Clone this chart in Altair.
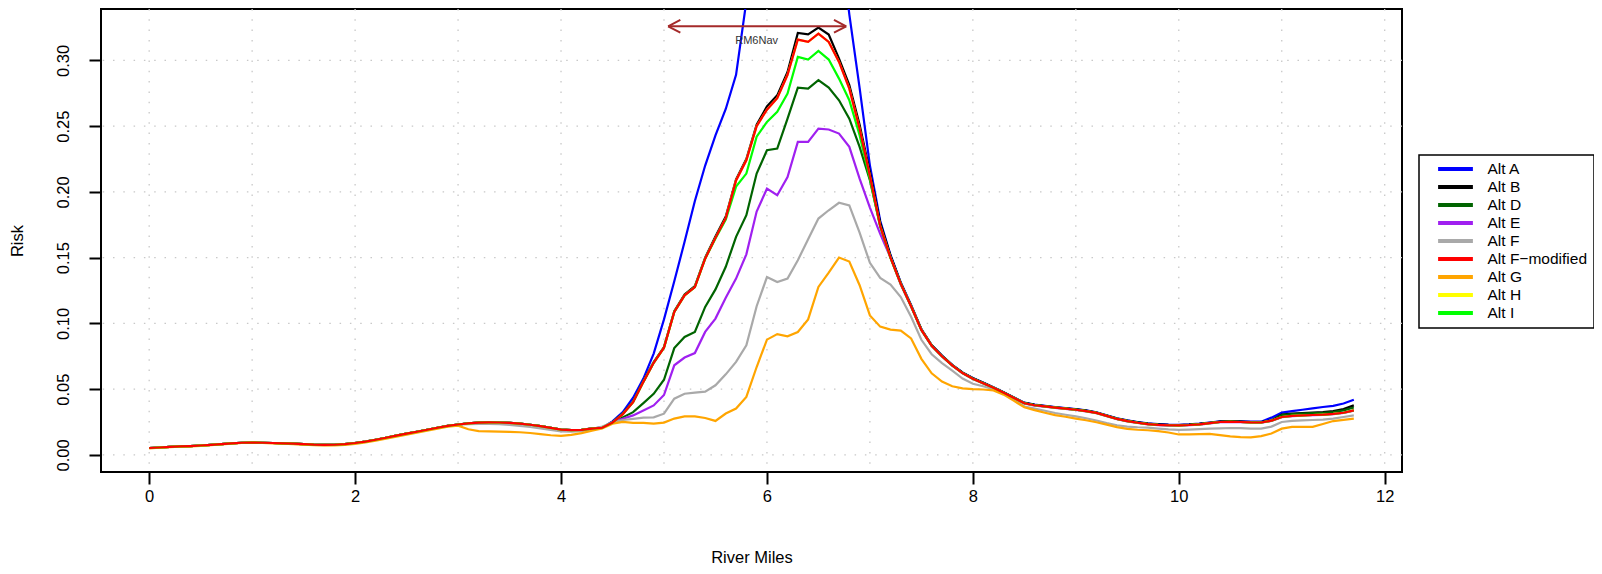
import altair as alt
import pandas as pd

# ---------------- data ----------------
river_miles = [round(0.1 * i, 1) for i in range(118)]  # 0.0 ... 11.7

series_names = ["Alt A", "Alt B", "Alt D", "Alt E", "Alt F",
                "Alt F\u2212modified", "Alt G", "Alt H", "Alt I"]
series_colors = ["#0000FF", "#000000", "#006400", "#A020F0", "#A9A9A9",
                 "#FF0000", "#FFA500", "#FFFF00", "#00FF00"]
# drawing order (red drawn last, on top)
draw_order = ["Alt A", "Alt B", "Alt D", "Alt E", "Alt F", "Alt G",
              "Alt H", "Alt I", "Alt F\u2212modified"]

# miles 0.0 - 4.2 (shared by A, B, D, E, F-modified, H, I)
shared_start = [
    0.0052, 0.0056, 0.0060, 0.0064, 0.0067, 0.0071, 0.0076, 0.0082, 0.0088, 0.0092,
    0.0093, 0.0092, 0.0090, 0.0088, 0.0085, 0.0082, 0.0078, 0.0076, 0.0077, 0.0082,
    0.0090, 0.0101, 0.0115, 0.0130, 0.0146, 0.0161, 0.0176, 0.0191, 0.0206, 0.0220,
    0.0231, 0.0240, 0.0245, 0.0247, 0.0246, 0.0243, 0.0237, 0.0229, 0.0218, 0.0205,
    0.0192, 0.0188, 0.0190]
alt_f_start = [
    0.0052, 0.0056, 0.0060, 0.0064, 0.0067, 0.0071, 0.0076, 0.0082, 0.0088, 0.0092,
    0.0093, 0.0092, 0.0090, 0.0088, 0.0084, 0.0080, 0.0076, 0.0074, 0.0075, 0.0080,
    0.0088, 0.0099, 0.0113, 0.0128, 0.0144, 0.0159, 0.0174, 0.0189, 0.0204, 0.0218,
    0.0229, 0.0234, 0.0236, 0.0236, 0.0233, 0.0228, 0.0221, 0.0212, 0.0202, 0.0190,
    0.0178, 0.0176, 0.0180]
alt_g_start = [
    0.0050, 0.0054, 0.0058, 0.0062, 0.0065, 0.0069, 0.0074, 0.0080, 0.0086, 0.0090,
    0.0091, 0.0090, 0.0088, 0.0086, 0.0082, 0.0078, 0.0074, 0.0071, 0.0071, 0.0075,
    0.0083, 0.0094, 0.0108, 0.0123, 0.0139, 0.0154, 0.0169, 0.0184, 0.0200, 0.0215,
    0.0222, 0.0195, 0.0180, 0.0178, 0.0177, 0.0175, 0.0172, 0.0166, 0.0157, 0.0149,
    0.0144, 0.0152, 0.0165]

# miles 4.3 - 11.7
alt_a_rest = [
    0.0200, 0.0207, 0.0255, 0.0325, 0.0435, 0.0580, 0.0770, 0.1030, 0.1320, 0.1620,
    0.1930, 0.2200, 0.2430, 0.2630, 0.2890, 0.3450, 0.4000, 0.4400, 0.4700, 0.4900,
    0.5000, 0.5000, 0.4900, 0.4700, 0.4000, 0.3350, 0.2790, 0.2200, 0.1780, 0.1520,
    0.1310, 0.1140, 0.0956, 0.0835, 0.0755, 0.0685, 0.0627, 0.0584, 0.0550, 0.0515,
    0.0477, 0.0437, 0.0397, 0.0382, 0.0373, 0.0364, 0.0356, 0.0348, 0.0338, 0.0324,
    0.0301, 0.0278, 0.0262, 0.0249, 0.0239, 0.0233, 0.0230, 0.0229, 0.0232, 0.0237,
    0.0246, 0.0255, 0.0256, 0.0255, 0.0252, 0.0252, 0.0283, 0.0321, 0.0333, 0.0343,
    0.0353, 0.0364, 0.0373, 0.0390, 0.0419]
alt_b_rest = [
    0.0201, 0.0208, 0.0248, 0.0314, 0.0405, 0.0560, 0.0705, 0.0820, 0.1092, 0.1220,
    0.1283, 0.1500, 0.1660, 0.1812, 0.2095, 0.2250, 0.2510, 0.2650, 0.2734, 0.2912,
    0.3209, 0.3198, 0.3249, 0.3196, 0.3013, 0.2811, 0.2510, 0.2150, 0.1765, 0.1515,
    0.1305, 0.1135, 0.0953, 0.0833, 0.0753, 0.0683, 0.0625, 0.0582, 0.0548, 0.0513,
    0.0475, 0.0435, 0.0395, 0.0380, 0.0371, 0.0362, 0.0354, 0.0346, 0.0336, 0.0322,
    0.0299, 0.0276, 0.0260, 0.0247, 0.0237, 0.0231, 0.0228, 0.0227, 0.0230, 0.0235,
    0.0244, 0.0253, 0.0254, 0.0253, 0.0250, 0.0249, 0.0262, 0.0306, 0.0314, 0.0318,
    0.0322, 0.0326, 0.0333, 0.0348, 0.0376]
alt_d_rest = [
    0.0200, 0.0204, 0.0250, 0.0285, 0.0325, 0.0393, 0.0464, 0.0571, 0.0812, 0.0897,
    0.0935, 0.1125, 0.1258, 0.1430, 0.1658, 0.1822, 0.2139, 0.2316, 0.2329, 0.2557,
    0.2793, 0.2785, 0.2849, 0.2793, 0.2696, 0.2557, 0.2342, 0.2088, 0.1745, 0.1502,
    0.1300, 0.1131, 0.0951, 0.0831, 0.0751, 0.0681, 0.0623, 0.0580, 0.0546, 0.0511,
    0.0473, 0.0433, 0.0393, 0.0378, 0.0369, 0.0360, 0.0352, 0.0344, 0.0334, 0.0320,
    0.0297, 0.0274, 0.0258, 0.0245, 0.0235, 0.0229, 0.0226, 0.0225, 0.0228, 0.0233,
    0.0242, 0.0251, 0.0252, 0.0251, 0.0248, 0.0247, 0.0260, 0.0302, 0.0310, 0.0314,
    0.0317, 0.0320, 0.0326, 0.0338, 0.0360]
alt_e_rest = [
    0.0200, 0.0204, 0.0250, 0.0275, 0.0300, 0.0338, 0.0376, 0.0455, 0.0681, 0.0740,
    0.0774, 0.0935, 0.1036, 0.1194, 0.1340, 0.1525, 0.1850, 0.2024, 0.1974, 0.2113,
    0.2380, 0.2380, 0.2481, 0.2474, 0.2443, 0.2342, 0.2100, 0.1880, 0.1680, 0.1500,
    0.1295, 0.1128, 0.0948, 0.0828, 0.0748, 0.0678, 0.0620, 0.0577, 0.0543, 0.0508,
    0.0470, 0.0430, 0.0390, 0.0375, 0.0366, 0.0357, 0.0349, 0.0341, 0.0331, 0.0317,
    0.0294, 0.0271, 0.0255, 0.0242, 0.0232, 0.0226, 0.0223, 0.0222, 0.0225, 0.0230,
    0.0239, 0.0248, 0.0249, 0.0248, 0.0245, 0.0244, 0.0258, 0.0286, 0.0294, 0.0298,
    0.0301, 0.0304, 0.0309, 0.0318, 0.0336]
alt_f_rest = [
    0.0195, 0.0215, 0.0245, 0.0265, 0.0274, 0.0283, 0.0285, 0.0313, 0.0427, 0.0465,
    0.0473, 0.0481, 0.0529, 0.0612, 0.0707, 0.0833, 0.1130, 0.1352, 0.1314, 0.1340,
    0.1480, 0.1640, 0.1797, 0.1860, 0.1917, 0.1897, 0.1690, 0.1460, 0.1345, 0.1295,
    0.1200, 0.1050, 0.0875, 0.0765, 0.0697, 0.0640, 0.0580, 0.0541, 0.0522, 0.0500,
    0.0465, 0.0420, 0.0368, 0.0352, 0.0335, 0.0318, 0.0305, 0.0293, 0.0278, 0.0261,
    0.0242, 0.0225, 0.0215, 0.0210, 0.0207, 0.0200, 0.0194, 0.0190, 0.0192, 0.0195,
    0.0199, 0.0202, 0.0204, 0.0203, 0.0200, 0.0200, 0.0215, 0.0250, 0.0258, 0.0262,
    0.0265, 0.0268, 0.0275, 0.0288, 0.0300]
alt_f_mod_rest = [
    0.0200, 0.0206, 0.0245, 0.0310, 0.0400, 0.0555, 0.0700, 0.0815, 0.1086, 0.1213,
    0.1276, 0.1492, 0.1650, 0.1800, 0.2087, 0.2240, 0.2500, 0.2625, 0.2712, 0.2890,
    0.3158, 0.3140, 0.3203, 0.3140, 0.2988, 0.2785, 0.2480, 0.2120, 0.1740, 0.1500,
    0.1300, 0.1130, 0.0950, 0.0830, 0.0750, 0.0680, 0.0622, 0.0579, 0.0545, 0.0510,
    0.0472, 0.0432, 0.0392, 0.0377, 0.0368, 0.0359, 0.0351, 0.0343, 0.0333, 0.0319,
    0.0296, 0.0273, 0.0257, 0.0244, 0.0234, 0.0228, 0.0225, 0.0224, 0.0227, 0.0232,
    0.0241, 0.0250, 0.0251, 0.0250, 0.0247, 0.0246, 0.0260, 0.0288, 0.0296, 0.0300,
    0.0303, 0.0306, 0.0311, 0.0320, 0.0338]
alt_g_rest = [
    0.0183, 0.0200, 0.0237, 0.0250, 0.0243, 0.0243, 0.0238, 0.0245, 0.0276, 0.0293,
    0.0293, 0.0280, 0.0258, 0.0314, 0.0352, 0.0441, 0.0668, 0.0876, 0.0918, 0.0901,
    0.0934, 0.1030, 0.1277, 0.1385, 0.1500, 0.1470, 0.1290, 0.1060, 0.0975, 0.0952,
    0.0945, 0.0885, 0.0730, 0.0620, 0.0557, 0.0522, 0.0505, 0.0500, 0.0497, 0.0490,
    0.0458, 0.0410, 0.0362, 0.0340, 0.0320, 0.0302, 0.0290, 0.0276, 0.0263, 0.0248,
    0.0230, 0.0211, 0.0198, 0.0191, 0.0187, 0.0180, 0.0170, 0.0155, 0.0155, 0.0157,
    0.0160, 0.0150, 0.0140, 0.0135, 0.0133, 0.0143, 0.0162, 0.0199, 0.0212, 0.0212,
    0.0213, 0.0235, 0.0257, 0.0266, 0.0275]
# Alt H is not visible anywhere: it lies under Alt F-modified
alt_h_rest = alt_f_mod_rest
alt_i_rest = [
    0.0200, 0.0206, 0.0245, 0.0310, 0.0400, 0.0555, 0.0700, 0.0815, 0.1086, 0.1213,
    0.1276, 0.1492, 0.1645, 0.1790, 0.2040, 0.2139, 0.2420, 0.2532, 0.2608, 0.2747,
    0.3026, 0.3006, 0.3072, 0.3006, 0.2861, 0.2697, 0.2430, 0.2100, 0.1735, 0.1498,
    0.1300, 0.1130, 0.0950, 0.0830, 0.0750, 0.0680, 0.0622, 0.0579, 0.0545, 0.0510,
    0.0472, 0.0432, 0.0392, 0.0377, 0.0368, 0.0359, 0.0351, 0.0343, 0.0333, 0.0319,
    0.0296, 0.0273, 0.0257, 0.0244, 0.0234, 0.0228, 0.0225, 0.0224, 0.0227, 0.0232,
    0.0241, 0.0250, 0.0251, 0.0250, 0.0247, 0.0246, 0.0260, 0.0288, 0.0296, 0.0300,
    0.0303, 0.0306, 0.0311, 0.0320, 0.0338]

risk_values = {
    "Alt A": shared_start + alt_a_rest,
    "Alt B": shared_start + alt_b_rest,
    "Alt D": shared_start + alt_d_rest,
    "Alt E": shared_start + alt_e_rest,
    "Alt F": alt_f_start + alt_f_rest,
    "Alt F\u2212modified": shared_start + alt_f_mod_rest,
    "Alt G": alt_g_start + alt_g_rest,
    "Alt H": shared_start + alt_h_rest,
    "Alt I": shared_start + alt_i_rest,
}

x_ticks = [0, 2, 4, 6, 8, 10, 12]
y_ticks = [0.0, 0.05, 0.10, 0.15, 0.20, 0.25, 0.30]
grid_x = [0, 1, 2, 3, 4, 5, 6, 7, 8, 9, 10, 11, 12]
grid_y = [0.0, 0.05, 0.10, 0.15, 0.20, 0.25, 0.30]

arrow_start = [5.04]
arrow_end = [6.77]
arrow_level = [0.3259]
note_x = [5.9]
note_y = [0.3150]
note_text = ["RM6Nav"]

# ---------------- chart ----------------
FONT = "Liberation Sans"
FS = 16.5
x_dom = [-0.468, 12.168]
y_dom = [-0.01304, 0.33904]
xs = alt.Scale(domain=x_dom, nice=False, zero=False)
ys = alt.Scale(domain=y_dom, nice=False, zero=False)

x_axis = alt.Axis(values=x_ticks, format="d", grid=False, domain=False,
                  tickSize=12, tickWidth=2, tickColor="black",
                  labelFont=FONT, labelFontSize=FS, labelColor="black",
                  labelPadding=4, labelFlush=False,
                  title="River Miles", titleFont=FONT, titleFontSize=FS,
                  titleFontWeight="normal", titleColor="black",
                  titleBaseline="middle", titleY=85)
y_axis = alt.Axis(values=y_ticks, format=".2f", grid=False, domain=False,
                  tickSize=12, tickWidth=2, tickColor="black",
                  labelFont=FONT, labelFontSize=FS, labelColor="black",
                  labelAngle=270, labelAlign="center", labelBaseline="middle",
                  labelPadding=25.5, labelFlush=False,
                  title="Risk", titleFont=FONT, titleFontSize=FS,
                  titleFontWeight="normal", titleColor="black",
                  titleAngle=270, titleAlign="center", titleBaseline="middle",
                  titleX=-84)


def X(field):
    return alt.X(field, scale=xs, axis=x_axis)


def Y(field):
    return alt.Y(field, scale=ys, axis=y_axis)


grid_v = alt.Chart(pd.DataFrame({"gx": grid_x})).mark_rule(
    color="#C8C8C8", strokeWidth=1.3, strokeDash=[1.5, 8.8]
).encode(x=X("gx:Q"))

grid_h = alt.Chart(pd.DataFrame({"gy": grid_y})).mark_rule(
    color="#C8C8C8", strokeWidth=1.3, strokeDash=[1.5, 8.8]
).encode(y=Y("gy:Q"))

color_scale = alt.Scale(domain=series_names, range=series_colors)
legend = alt.Legend(
    title=None, orient="none", legendX=1318, legendY=146,
    symbolType="M-2.9,0H2.9", symbolSize=144, symbolStrokeWidth=4,
    symbolOffset=22.5, labelOffset=24,
    labelFont=FONT, labelFontSize=15.5, labelColor="black",
    padding=6, rowPadding=1, strokeColor="black",
)

line_layers = []
for name in draw_order:
    df = pd.DataFrame({"mile": river_miles, "risk": risk_values[name],
                       "series": name})
    line_layers.append(
        alt.Chart(df).mark_line(strokeWidth=2.2, clip=True).encode(
            x=X("mile:Q"),
            y=Y("risk:Q"),
            color=alt.Color("series:N", scale=color_scale, legend=legend),
        )
    )

arrow_df = pd.DataFrame({"xa": arrow_start, "xb": arrow_end, "ya": arrow_level})
arrow_shaft = alt.Chart(arrow_df).mark_rule(color="#A52A2A", strokeWidth=2).encode(
    x=X("xa:Q"), x2="xb:Q", y=Y("ya:Q"))
head_left = alt.Chart(pd.DataFrame({"hx": arrow_start, "hy": arrow_level})).mark_point(
    shape="M0,0L1.75,-0.9M0,0L1.75,0.9", size=196, filled=False,
    strokeWidth=2, color="#A52A2A", opacity=1
).encode(x=X("hx:Q"), y=Y("hy:Q"))
head_right = alt.Chart(pd.DataFrame({"hx": arrow_end, "hy": arrow_level})).mark_point(
    shape="M0,0L-1.75,-0.9M0,0L-1.75,0.9", size=196, filled=False,
    strokeWidth=2, color="#A52A2A", opacity=1
).encode(x=X("hx:Q"), y=Y("hy:Q"))
note = alt.Chart(pd.DataFrame({"nx": note_x, "ny": note_y, "t": note_text})).mark_text(
    font=FONT, fontSize=11, color="#333333"
).encode(x=X("nx:Q"), y=Y("ny:Q"), text="t:N")

chart = alt.layer(
    grid_v, grid_h, *line_layers, arrow_shaft, head_left, head_right, note
).properties(
    width=1301, height=463,
    autosize=alt.AutoSizeParams(type="none"),
    padding={"left": 93, "top": 1, "right": 192, "bottom": 94},
    background="white",
).configure_view(
    stroke="black", strokeWidth=2
).configure_legend(
    strokeWidth=1.5
)

chart.save("out.html", embed_options={"renderer": "svg", "actions": False})
